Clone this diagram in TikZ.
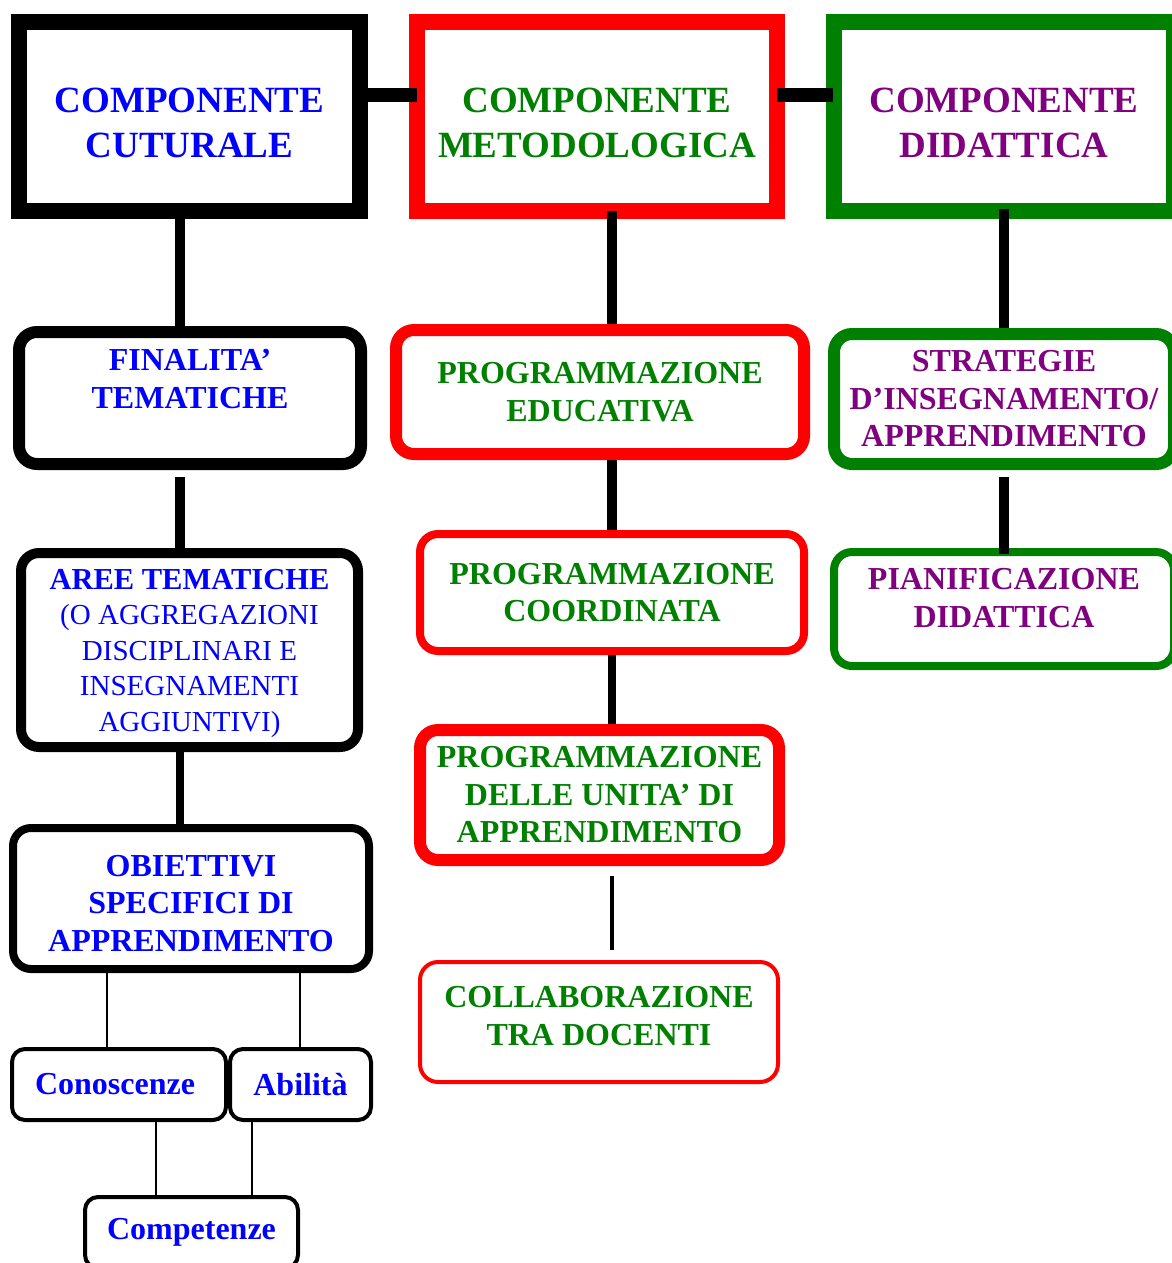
\documentclass[tikz,border=0pt]{standalone}
\usepackage{fontspec}
\setmainfont{Liberation Serif}

\definecolor{tblue}{RGB}{0,0,255}
\definecolor{tgreen}{RGB}{0,128,0}
\definecolor{tpurple}{RGB}{128,0,128}
\definecolor{tred}{RGB}{255,0,0}

\begin{document}
\begin{tikzpicture}[x=1pt, y=-1pt,
    topbox/.style={draw, line width=16pt, inner sep=0pt, minimum height=189pt},
    toplbl/.style={inner sep=0pt, align=center, font=\bfseries\fontsize{37}{45}\selectfont},
    subbox/.style={draw, rounded corners=18pt, inner sep=0pt, align=center,
        font=\bfseries\fontsize{32}{37.5}\selectfont},
    smallbox/.style={subbox, line width=4pt, rounded corners=13pt, minimum height=71pt},
    lbl/.style={inner sep=0pt, align=center, font=\bfseries\fontsize{32}{37.5}\selectfont},
    link/.style={draw=black}]

    \useasboundingbox (0,0) rectangle (1172,1263);

    %% Top row
    \node[topbox, minimum width=341pt] (cult) at (189.5,116.5) {};
    \node[toplbl, text=tblue] (cultT) at ([yshift=-6.5pt]cult) {COMPONENTE\\CUTURALE};
    \node[topbox, draw=tred, minimum width=360pt] (metod) at (597,116.5) {};
    \node[toplbl, text=tgreen] (metodT) at ([yshift=-6.5pt]metod) {COMPONENTE\\METODOLOGICA};
    \node[topbox, draw=tgreen, minimum width=340pt] (didat) at (1004,116.5) {};
    \node[toplbl, text=tpurple] (didatT) at ([yshift=-6.5pt]didat) {COMPONENTE\\DIDATTICA};

    %% Left column
    \node[subbox, line width=12pt, minimum width=342pt, minimum height=132pt] (fin) at (190,398) {};
    \node[lbl, text=tblue] (finT) at ([yshift=19pt]fin) {FINALITA’\\TEMATICHE};
    \node[subbox, line width=10pt, minimum width=337pt, minimum height=194pt] (aree) at (189.5,650) {};
    \node[lbl, text=tblue, font=\fontsize{29}{35.5}\selectfont] (areeT) at ([yshift=-3pt]aree)
        {{\bfseries\fontsize{30.5}{35.5}\selectfont AREE TEMATICHE}\\(O AGGREGAZIONI\\DISCIPLINARI E\\INSEGNAMENTI\\AGGIUNTIVI)};
    \node[subbox, line width=8pt, minimum width=356pt, minimum height=141pt] (obiet) at (191,898.5) {};
    \node[lbl, text=tblue] (obietT) at ([yshift=-5pt]obiet) {OBIETTIVI\\SPECIFICI DI\\APPRENDIMENTO};
    \node[smallbox, text=tblue, minimum width=214pt] (cono) at (119,1084.5) {Conoscenze\hspace*{8pt}};
    \node[smallbox, text=tblue, minimum width=141pt] (abil) at (300.5,1084.5) {Abilità};
    \node[smallbox, text=tblue, minimum width=213pt] (comp) at (191.5,1232.5) {Competenze};

    %% Middle column
    \node[subbox, line width=12pt, draw=tred, text=tgreen, minimum width=408pt, minimum height=124pt] (edu) at (600,392)
        {PROGRAMMAZIONE\\EDUCATIVA};
    \node[subbox, line width=8pt, draw=tred, text=tgreen, minimum width=384pt, minimum height=117pt] (coord) at (612,592.5)
        {PROGRAMMAZIONE\\COORDINATA};
    \node[subbox, line width=12pt, draw=tred, text=tgreen, minimum width=359pt, minimum height=130pt] (unita) at (599.5,795)
        {PROGRAMMAZIONE\\DELLE UNITA’ DI\\APPRENDIMENTO};
    \node[subbox, line width=4pt, draw=tred, minimum width=358pt, minimum height=120pt] (coll) at (599,1022) {};
    \node[lbl, text=tgreen] (collT) at ([yshift=6pt]coll) {COLLABORAZIONE\\TRA DOCENTI};

    %% Right column
    \node[subbox, line width=12pt, draw=tgreen, text=tpurple, minimum width=340pt, minimum height=130pt] (strat) at (1004,399)
        {STRATEGIE\\D’INSEGNAMENTO/\\APPRENDIMENTO};
    \node[subbox, line width=8pt, draw=tgreen, minimum width=340pt, minimum height=114pt] (pian) at (1004,609) {};
    \node[lbl, text=tpurple] (pianT) at ([yshift=11pt]pian) {PIANIFICAZIONE\\DIDATTICA};

    %% Connectors
    % top row
    \draw[link, line width=14pt, shorten >=-8pt] ([yshift=21.5pt]cult.east) -- ([yshift=21.5pt]metod.west);
    \draw[link, line width=14pt, shorten <=-8pt, shorten >=-7pt] ([yshift=21.5pt]metod.east) -- ([yshift=21.5pt]didat.west);

    % left
    \draw[link, line width=10pt] ([xshift=-9.5pt]cult.south) -- ([xshift=-10pt]fin.north);
    \draw[link, line width=10pt, shorten <=7pt] ([xshift=-10pt]fin.south) -- ([xshift=-9.5pt]aree.north);
    \draw[link, line width=8pt] ([xshift=-9.5pt]aree.south) -- ([xshift=-11pt]obiet.north);
    \draw[link, line width=2pt] ([xshift=-84pt]obiet.south) -- ([xshift=-12pt]cono.north);
    \draw[link, line width=2pt] ([xshift=109pt]obiet.south) -- ([xshift=-0.5pt]abil.north);
    \draw[link, line width=2pt] ([xshift=37pt]cono.south) -- ([xshift=-35.5pt]comp.north);
    \draw[link, line width=2pt] ([xshift=-48.5pt]abil.south) -- ([xshift=60.5pt]comp.north);

    % middle
    \draw[link, line width=10pt, shorten <=-8pt] ([xshift=15pt]metod.south) -- ([xshift=12pt]edu.north);
    \draw[link, line width=10pt] ([xshift=12pt]edu.south) -- (coord.north);
    \draw[link, line width=8pt] (coord.south) -- ([xshift=12.5pt]unita.north);
    \draw[link, line width=4pt, shorten <=10pt, shorten >=10pt] ([xshift=12.5pt]unita.south) -- ([xshift=13pt]coll.north);

    % right
    \draw[link, line width=10pt, shorten <=-10pt] (didat.south) -- (strat.north);
    \draw[link, line width=10pt, shorten <=7pt, shorten >=-6pt] (strat.south) -- (pian.north);

\end{tikzpicture}
\end{document}
